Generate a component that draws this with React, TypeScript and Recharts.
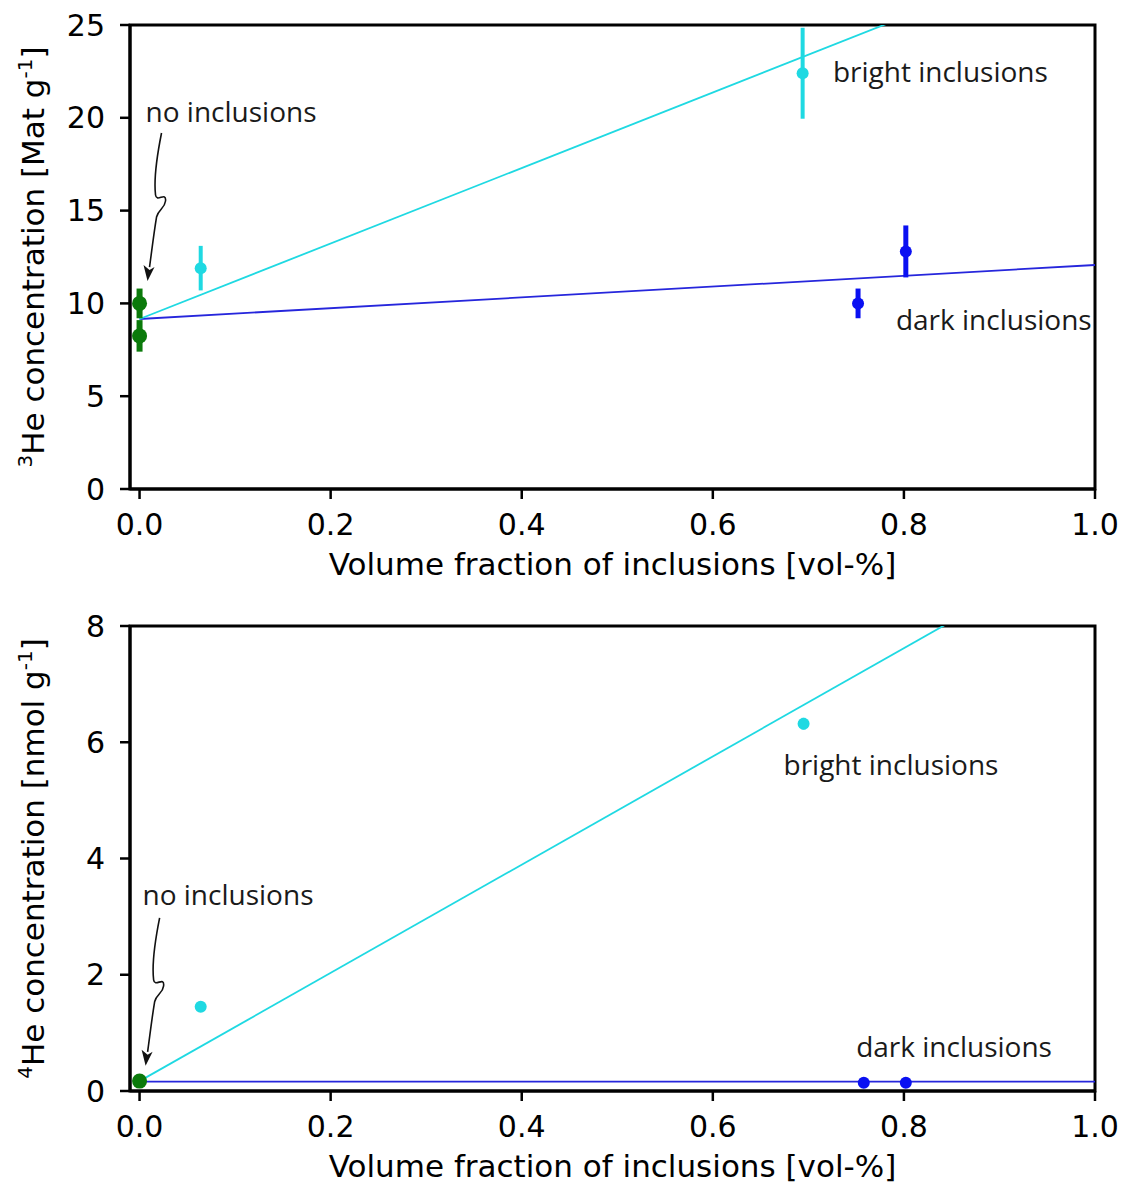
import React from "react";
import {
  ComposedChart,
  Line,
  Scatter,
  ErrorBar,
  XAxis,
  YAxis,
  ReferenceArea,
  ReferenceDot,
  Label,
} from "recharts";

// shared x axis
const xTicks = [0, 0.2, 0.4, 0.6, 0.8, 1.0];
const xDomain = [-0.01, 1.0];

// 3He panel
const he3Ticks = [0, 5, 10, 15, 20, 25];
const he3None = [
  { x: 0, y: 10.0, err: 0.8 },
  { x: 0, y: 8.25, err: 0.85 },
];
const he3Bright = [
  { x: 0.064, y: 11.9, err: 1.2 },
  { x: 0.694, y: 22.4, err: 2.45 },
];
const he3Dark = [
  { x: 0.752, y: 10.0, err: 0.8 },
  { x: 0.802, y: 12.8, err: 1.4 },
];
const he3FitBright = [
  { x: 0, y: 9.16 },
  { x: 1.0, y: 29.5 },
];
const he3FitDark = [
  { x: 0, y: 9.16 },
  { x: 1.0, y: 12.07 },
];
const he3Notes = [
  { text: "no inclusions", x: 0.0063, y: 19.77 },
  { text: "bright inclusions", x: 0.7257, y: 21.93 },
  { text: "dark inclusions", x: 0.7916, y: 8.57 },
];
const he3Arrow = { x: 0.023, y: 19.18 };

// 4He panel
const he4Ticks = [0, 2, 4, 6, 8];
const he4None = [{ x: 0, y: 0.17, err: 0.02 }];
const he4Bright = [
  { x: 0.064, y: 1.45, err: 0.03 },
  { x: 0.695, y: 6.32, err: 0.1 },
];
const he4Dark = [
  { x: 0.758, y: 0.14, err: 0.02 },
  { x: 0.802, y: 0.14, err: 0.02 },
];
const he4FitBright = [
  { x: 0, y: 0.17 },
  { x: 1.0, y: 9.48 },
];
const he4FitDark = [
  { x: 0, y: 0.16 },
  { x: 1.0, y: 0.16 },
];
const he4Notes = [
  { text: "no inclusions", x: 0.0031, y: 3.2 },
  { text: "bright inclusions", x: 0.674, y: 5.44 },
  { text: "dark inclusions", x: 0.75, y: 0.585 },
];
const he4Arrow = { x: 0.021, y: 2.98 };

const CYAN = "#1fd9e2";
const BLUE = "#0a10f2";
const BLUE_LINE = "#2626dc";
const GREEN = "#0b7a0b";
const TICK_FONT = "DejaVu Sans";
const NOTE_FONT = "Open Sans";

const dot = (r: number, color: string) => (p: any) =>
  <circle cx={p.cx} cy={p.cy} r={r} fill={color} />;

// curly arrow pointing at the "no inclusions" points
const curlyArrow = (p: any) => {
  const x = p.cx;
  const y = p.cy;
  const d = `M${x},${y} C${x - 4},${y + 20} ${x - 8},${y + 45} ${x - 6},${y + 62}
    C${x - 5},${y + 70} ${x + 5},${y + 58} ${x + 4},${y + 68}
    C${x + 3},${y + 76} ${x - 3},${y + 76} ${x - 5},${y + 84}
    C${x - 8},${y + 102} ${x - 10},${y + 120} ${x - 12},${y + 134}`;
  const tx = x - 14;
  const ty = y + 148;
  return (
    <g>
      <path d={d} fill="none" stroke="#111" strokeWidth={1.6} />
      <path
        d={`M${tx},${ty} L${tx - 4},${ty - 16} L${tx + 2},${ty - 11} L${tx + 7},${ty - 14} Z`}
        fill="#111"
      />
    </g>
  );
};

const YLabel = ({ viewBox, iso, unit }: any) => {
  const x = viewBox.x + 44;
  const cy = viewBox.y + viewBox.height / 2;
  return (
    <text
      x={x}
      y={cy}
      transform={`rotate(-90, ${x}, ${cy})`}
      textAnchor="middle"
      fontFamily={TICK_FONT}
      fontSize={31}
      fill="#000"
    >
      <tspan fontSize={20} dy={-12}>{iso}</tspan>
      <tspan dy={12}>{`He concentration [${unit} g`}</tspan>
      <tspan fontSize={20} dy={-12}>-1</tspan>
      <tspan dy={12}>]</tspan>
    </text>
  );
};

const XLabel = ({ viewBox }: any) => (
  <text
    x={viewBox.x + viewBox.width / 2}
    y={viewBox.y + 86}
    textAnchor="middle"
    fontFamily={TICK_FONT}
    fontSize={31}
    fill="#000"
  >
    Volume fraction of inclusions [vol-%]
  </text>
);

type PanelProps = {
  height: number;
  top: number;
  axisHeight: number;
  yTicks: number[];
  iso: string;
  unit: string;
  none: any[];
  bright: any[];
  dark: any[];
  fitBright: any[];
  fitDark: any[];
  notes: { text: string; x: number; y: number }[];
  arrow: { x: number; y: number };
};

function Panel(props: PanelProps) {
  const yMax = props.yTicks[props.yTicks.length - 1];
  const tickStyle = { fontFamily: TICK_FONT, fontSize: 30, fill: "#000" };
  return (
    <ComposedChart
      width={1123}
      height={props.height}
      margin={{ top: props.top, right: 28, bottom: 0, left: 0 }}
    >
      <XAxis
        type="number"
        dataKey="x"
        domain={xDomain}
        ticks={xTicks}
        allowDataOverflow
        tickFormatter={(v: number) => v.toFixed(1)}
        height={props.axisHeight}
        tick={tickStyle}
        tickSize={10}
        tickMargin={15}
        tickLine={{ stroke: "#000", strokeWidth: 2.5 }}
        axisLine={{ stroke: "#000", strokeWidth: 3 }}
      >
        <Label content={<XLabel />} />
      </XAxis>
      <YAxis
        type="number"
        dataKey="y"
        domain={[0, yMax]}
        ticks={props.yTicks}
        allowDataOverflow
        width={130}
        tick={tickStyle}
        tickSize={10}
        tickMargin={15}
        tickLine={{ stroke: "#000", strokeWidth: 2.5 }}
        axisLine={{ stroke: "#000", strokeWidth: 3 }}
      >
        <Label content={<YLabel iso={props.iso} unit={props.unit} />} />
      </YAxis>
      <ReferenceArea
        x1={xDomain[0]}
        x2={xDomain[1]}
        y1={0}
        y2={yMax}
        fill="none"
        fillOpacity={0}
        stroke="#000"
        strokeWidth={3}
      />
      <Line
        data={props.fitDark}
        dataKey="y"
        type="linear"
        stroke={BLUE_LINE}
        strokeWidth={1.8}
        dot={false}
        activeDot={false}
        isAnimationActive={false}
      />
      <Line
        data={props.fitBright}
        dataKey="y"
        type="linear"
        stroke={CYAN}
        strokeWidth={1.8}
        dot={false}
        activeDot={false}
        isAnimationActive={false}
      />
      <Scatter data={props.bright} fill={CYAN} shape={dot(6, CYAN)} isAnimationActive={false}>
        <ErrorBar dataKey="err" direction="y" width={0} stroke={CYAN} strokeWidth={4} />
      </Scatter>
      <Scatter data={props.dark} fill={BLUE} shape={dot(6, BLUE)} isAnimationActive={false}>
        <ErrorBar dataKey="err" direction="y" width={0} stroke={BLUE} strokeWidth={5} />
      </Scatter>
      <Scatter data={props.none} fill={GREEN} shape={dot(7.5, GREEN)} isAnimationActive={false}>
        <ErrorBar dataKey="err" direction="y" width={0} stroke={GREEN} strokeWidth={6} />
      </Scatter>
      {props.notes.map((n) => (
        <ReferenceDot
          key={n.text}
          x={n.x}
          y={n.y}
          r={0}
          shape={(p: any) => (
            <text x={p.cx} y={p.cy} fontFamily={NOTE_FONT} fontSize={28} fill="#1a1a1a">
              {n.text}
            </text>
          )}
        />
      ))}
      <ReferenceDot x={props.arrow.x} y={props.arrow.y} r={0} shape={curlyArrow} />
    </ComposedChart>
  );
}

export default function App() {
  return (
    <div style={{ background: "#fff", width: 1123 }}>
      <style>{`body { margin: 0; }`}</style>
      <Panel
        height={608}
        top={25}
        axisHeight={119}
        yTicks={he3Ticks}
        iso="3"
        unit="Mat"
        none={he3None}
        bright={he3Bright}
        dark={he3Dark}
        fitBright={he3FitBright}
        fitDark={he3FitDark}
        notes={he3Notes}
        arrow={he3Arrow}
      />
      <Panel
        height={576}
        top={18}
        axisHeight={93}
        yTicks={he4Ticks}
        iso="4"
        unit="nmol"
        none={he4None}
        bright={he4Bright}
        dark={he4Dark}
        fitBright={he4FitBright}
        fitDark={he4FitDark}
        notes={he4Notes}
        arrow={he4Arrow}
      />
    </div>
  );
}
